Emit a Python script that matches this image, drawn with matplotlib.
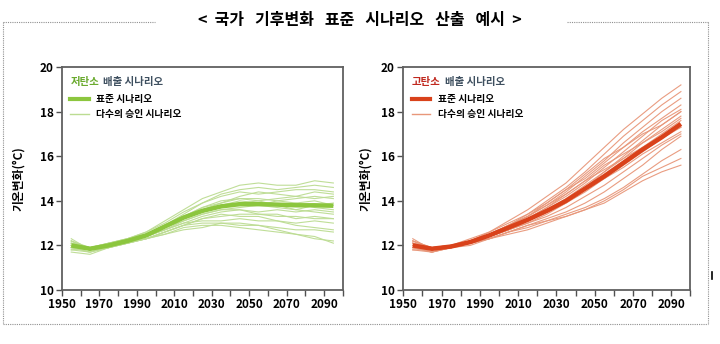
import matplotlib
matplotlib.use("Agg")
import matplotlib.pyplot as plt
from matplotlib.lines import Line2D

plt.rcParams['font.family'] = ['Noto Sans CJK KR', 'DejaVu Sans']

# years sampled every 10 years
years = [1955, 1965, 1975, 1985, 1995, 2005, 2015, 2025, 2035, 2045, 2055, 2065, 2075, 2085, 2095]

low_std = [12.0, 11.85, 12.0, 12.2, 12.45, 12.85, 13.25, 13.55, 13.75, 13.85, 13.85, 13.83, 13.8, 13.8, 13.78]
low_members = [
    [12.1, 11.9, 12.1, 12.3, 12.6, 13.1, 13.6, 14.1, 14.4, 14.7, 14.8, 14.7, 14.7, 14.9, 14.8],
    [11.9, 11.8, 12.0, 12.2, 12.5, 12.9, 13.4, 13.9, 14.3, 14.5, 14.6, 14.5, 14.6, 14.7, 14.6],
    [12.2, 11.9, 12.1, 12.3, 12.5, 12.9, 13.3, 13.6, 13.9, 14.2, 14.4, 14.3, 14.2, 14.4, 14.3],
    [11.8, 11.7, 11.9, 12.1, 12.4, 12.8, 13.2, 13.5, 13.7, 13.9, 14.0, 14.1, 14.2, 14.1, 14.2],
    [12.0, 11.9, 12.0, 12.2, 12.4, 12.7, 13.1, 13.4, 13.6, 13.7, 13.8, 13.7, 13.6, 13.8, 13.9],
    [12.3, 11.8, 12.1, 12.2, 12.5, 12.8, 13.2, 13.5, 13.8, 14.0, 13.9, 13.8, 13.9, 13.7, 13.6],
    [11.9, 11.8, 11.9, 12.2, 12.4, 12.7, 13.0, 13.3, 13.5, 13.6, 13.5, 13.6, 13.5, 13.6, 13.5],
    [12.1, 11.9, 12.0, 12.3, 12.5, 12.9, 13.3, 13.7, 14.0, 14.1, 14.0, 13.8, 13.6, 13.5, 13.4],
    [11.7, 11.6, 11.9, 12.1, 12.3, 12.6, 12.9, 13.2, 13.3, 13.4, 13.4, 13.3, 13.3, 13.2, 13.2],
    [12.0, 11.9, 12.0, 12.2, 12.4, 12.7, 13.0, 13.1, 13.1, 13.2, 13.1, 13.1, 13.0, 13.1, 13.0],
    [12.2, 11.8, 12.0, 12.2, 12.3, 12.6, 12.9, 13.0, 13.0, 12.9, 12.9, 12.8, 12.7, 12.7, 12.6],
    [11.9, 11.7, 11.9, 12.1, 12.3, 12.5, 12.8, 12.9, 12.9, 12.8, 12.7, 12.6, 12.5, 12.3, 12.2],
    [12.0, 11.8, 12.0, 12.1, 12.3, 12.5, 12.7, 12.8, 13.0, 13.0, 12.9, 12.7, 12.5, 12.4, 12.1],
    [12.1, 11.9, 12.1, 12.3, 12.6, 13.0, 13.5, 13.9, 14.2, 14.4, 14.3, 14.4, 14.5, 14.5, 14.4],
    [11.8, 11.9, 12.0, 12.2, 12.5, 12.9, 13.3, 13.7, 13.9, 14.1, 14.1, 14.0, 14.1, 14.2, 14.1],
    [12.2, 11.8, 12.0, 12.2, 12.4, 12.8, 13.2, 13.6, 13.8, 13.9, 13.8, 14.0, 13.9, 14.0, 13.8],
    [11.9, 11.7, 12.0, 12.2, 12.4, 12.8, 13.1, 13.4, 13.6, 13.6, 13.4, 13.4, 13.2, 13.3, 13.2],
    [12.0, 11.8, 11.9, 12.1, 12.3, 12.6, 12.9, 13.2, 13.4, 13.3, 13.3, 13.1, 12.9, 12.8, 12.7],
]

high_std = [12.0, 11.85, 11.95, 12.15, 12.45, 12.8, 13.15, 13.55, 14.0, 14.55, 15.1, 15.7, 16.3, 16.85, 17.45]
high_members = [
    [12.2, 11.9, 12.0, 12.2, 12.6, 13.1, 13.6, 14.2, 14.8, 15.6, 16.4, 17.2, 17.9, 18.6, 19.2],
    [11.9, 11.8, 12.0, 12.3, 12.6, 13.0, 13.4, 14.0, 14.6, 15.3, 16.1, 16.9, 17.6, 18.3, 18.9],
    [12.1, 11.9, 11.9, 12.2, 12.5, 12.9, 13.3, 13.8, 14.4, 15.1, 15.8, 16.6, 17.3, 18.0, 18.6],
    [12.3, 11.8, 12.0, 12.1, 12.5, 12.9, 13.4, 13.9, 14.5, 15.0, 15.7, 16.4, 17.1, 17.7, 18.3],
    [11.8, 11.7, 11.9, 12.2, 12.4, 12.8, 13.2, 13.7, 14.2, 14.8, 15.5, 16.2, 16.9, 17.6, 18.1],
    [12.0, 11.9, 12.0, 12.1, 12.4, 12.8, 13.1, 13.6, 14.1, 14.7, 15.3, 15.9, 16.6, 17.2, 17.8],
    [12.1, 11.8, 11.9, 12.2, 12.5, 12.8, 13.2, 13.6, 14.0, 14.6, 15.2, 15.8, 16.4, 17.0, 17.6],
    [11.9, 11.7, 12.0, 12.1, 12.4, 12.7, 13.0, 13.4, 13.9, 14.4, 15.0, 15.6, 16.2, 16.8, 17.3],
    [12.2, 11.9, 11.9, 12.2, 12.4, 12.7, 13.1, 13.5, 13.9, 14.5, 15.0, 15.5, 16.1, 16.6, 17.1],
    [12.0, 11.8, 11.9, 12.1, 12.4, 12.7, 13.0, 13.3, 13.7, 14.2, 14.7, 15.3, 15.9, 16.5, 17.0],
    [11.8, 11.8, 12.0, 12.2, 12.5, 12.9, 13.3, 13.8, 14.3, 14.9, 15.6, 16.1, 16.6, 17.1, 17.7],
    [12.1, 11.9, 12.0, 12.1, 12.3, 12.6, 12.9, 13.2, 13.5, 13.9, 14.4, 15.0, 15.6, 16.3, 16.9],
    [12.0, 11.7, 11.9, 12.1, 12.3, 12.6, 12.8, 13.1, 13.4, 13.7, 14.1, 14.6, 15.2, 15.8, 16.3],
    [11.9, 11.8, 12.0, 12.1, 12.3, 12.6, 12.9, 13.1, 13.3, 13.6, 14.0, 14.5, 15.1, 15.5, 15.9],
    [12.2, 11.8, 11.9, 12.0, 12.3, 12.5, 12.7, 13.0, 13.3, 13.6, 13.9, 14.4, 14.9, 15.3, 15.6],
    [12.0, 11.9, 12.0, 12.2, 12.5, 12.9, 13.3, 13.9, 14.5, 15.2, 15.9, 16.4, 17.0, 17.4, 18.0],
    [11.9, 11.7, 11.9, 12.2, 12.4, 12.8, 13.2, 13.7, 14.3, 14.9, 15.4, 15.9, 16.4, 16.9, 17.3],
    [12.1, 11.8, 12.0, 12.1, 12.4, 12.7, 13.1, 13.6, 14.0, 14.6, 15.3, 16.0, 16.7, 17.4, 18.0],
]

panels = [
    dict(std=low_std, members=low_members, main='#8cc63e', thin='#bcdc92',
         head='저탄소', head_color='#6aaa2e', pos=[0.086, 0.157, 0.390, 0.648], ylab_x=-0.13),
    dict(std=high_std, members=high_members, main='#d9421b', thin='#e8977a',
         head='고탄소', head_color='#c0281e', pos=[0.560, 0.157, 0.399, 0.648], ylab_x=-0.108),
]

fig = plt.figure(figsize=(7.2, 3.44), dpi=100)

for p in panels:
    ax = fig.add_axes(p['pos'])
    for m in p['members']:
        ax.plot(years, m, color=p['thin'], linewidth=0.8, alpha=0.95)
    ax.plot(years, p['std'], color=p['main'], linewidth=3.2, solid_capstyle='butt')

    ax.set_xlim(1950, 2100)
    ax.set_ylim(10, 20)
    ax.set_yticks(range(10, 21, 2))
    ax.set_xticks(range(1950, 2091, 20))
    ax.set_xticks(range(1960, 2101, 20), minor=True)
    for s in ax.spines.values():
        s.set_color('#606060')
        s.set_linewidth(1.3)
    ax.tick_params(which='both', direction='out', length=4, width=1, color='#505050',
                   labelsize=8.5, pad=2)
    for lab in ax.get_xticklabels() + ax.get_yticklabels():
        lab.set_fontweight('bold')
    ax.set_ylabel('기온변화(°C)', fontsize=8.5, fontweight='bold')
    ax.yaxis.set_label_coords(p['ylab_x'], 0.5)

    # legend block
    ax.text(0.03, 0.935, p['head'], transform=ax.transAxes, fontsize=7.5,
            fontweight='bold', color=p['head_color'], va='center', ha='left')
    ax.text(0.145, 0.935, '배출 시나리오', transform=ax.transAxes, fontsize=7.5,
            fontweight='bold', color='#3f5060', va='center', ha='left')
    ax.plot([0.03, 0.095], [0.855, 0.855], transform=ax.transAxes, color=p['main'], linewidth=3)
    ax.plot([0.03, 0.095], [0.79, 0.79], transform=ax.transAxes, color=p['thin'], linewidth=1)
    ax.text(0.12, 0.855, '표준 시나리오', transform=ax.transAxes, fontsize=7,
            fontweight='bold', va='center', ha='left')
    ax.text(0.12, 0.79, '다수의 승인 시나리오', transform=ax.transAxes, fontsize=7,
            fontweight='bold', va='center', ha='left')

# title and dotted frame
fig.text(0.5, 1 - 20 / 344, '<  국가   기후변화   표준   시나리오   산출   예시  >', ha='center',
         va='center', fontsize=11.5, fontweight='bold')


def px(x, y):
    return x / 720, 1 - y / 344


frame = [((3, 22), (155, 22)), ((567, 22), (708, 22)), ((708, 22), (708, 324)),
         ((3, 324), (708, 324)), ((3, 22), (3, 324))]
for a, b in frame:
    (x0, y0), (x1, y1) = px(*a), px(*b)
    fig.add_artist(Line2D([x0, x1], [y0, y1], color='#909090', linewidth=0.8,
                          linestyle=(0, (1, 1))))
x0, y0 = px(712, 272)
x1, y1 = px(712, 279)
fig.add_artist(Line2D([x0, x1], [y0, y1], color='black', linewidth=1.2))

plt.savefig('out.png', dpi=100)
